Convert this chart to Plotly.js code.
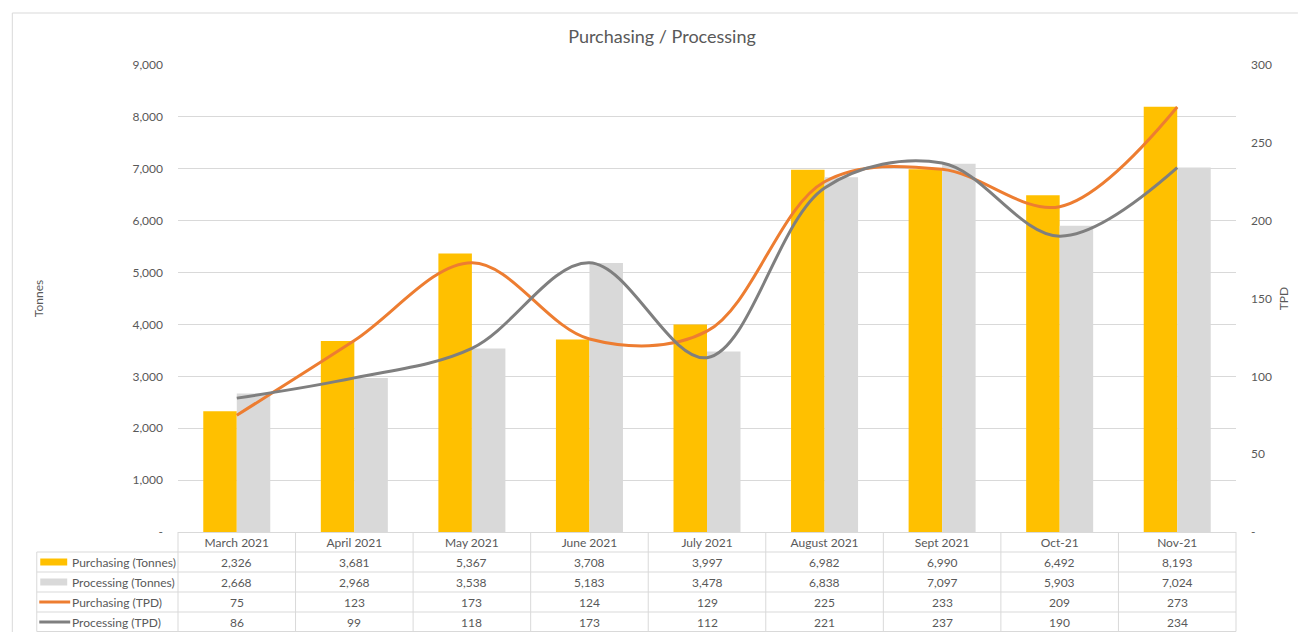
<!DOCTYPE html>
<html><head><meta charset="utf-8">
<script src="https://cdn.plot.ly/plotly-3.0.1.min.js"></script>
<style>html,body{margin:0;padding:0;background:#fff}</style>
</head><body><div id="chart" style="width:1300px;height:632px"></div>
<script>
const categories = ['March 2021','April 2021','May 2021','June 2021','July 2021','August 2021','Sept 2021','Oct-21','Nov-21'];
const purchasingTonnes = [2326,3681,5367,3708,3997,6982,6990,6492,8193];
const processingTonnes = [2668,2968,3538,5183,3478,6838,7097,5903,7024];
const purchasingTPD = [75,123,173,124,129,225,233,209,273];
const processingTPD = [86,99,118,173,112,221,237,190,234];
const seriesNames = ['Purchasing (Tonnes)','Processing (Tonnes)','Purchasing (TPD)','Processing (TPD)'];
const leftTicks = [0,1000,2000,3000,4000,5000,6000,7000,8000,9000];
const rightTicks = [0,50,100,150,200,250,300];

const GOLD='#FFC000', LGREY='#D9D9D9', ORANGE='#ED7D31', DGREY='#7F7F7F', TXT='#595959', BORDER='#D9D9D9';
const FONT='Lato, "Open Sans", sans-serif';
const fmt = v => v === 0 ? '-' : v.toLocaleString('en-US');

// pixel helpers (plot area 178..1238 x 65..532)
const L=178, R=1238, T=65, B=532;
const px = p => (p - L) / (R - L);
const py = p => (B - p) / (B - T);

const traces = [
  {type:'bar', name:seriesNames[0], x:categories, y:purchasingTonnes, marker:{color:GOLD}, yaxis:'y'},
  {type:'bar', name:seriesNames[1], x:categories, y:processingTonnes, marker:{color:LGREY}, yaxis:'y'},
  {type:'scatter', mode:'lines', name:seriesNames[2], x:categories, y:purchasingTPD, yaxis:'y2',
   line:{color:ORANGE, width:3, shape:'spline', smoothing:1}},
  {type:'scatter', mode:'lines', name:seriesNames[3], x:categories, y:processingTPD, yaxis:'y2',
   line:{color:DGREY, width:3, shape:'spline', smoothing:1}}
];

const shapes = [];
const annotations = [];
const line = (x0,y0,x1,y1,color,width) => shapes.push({type:'line', xref:'paper', yref:'paper',
  x0:px(x0), x1:px(x1), y0:py(y0), y1:py(y1), line:{color:color, width:width||1}});

// outer chart border
line(12,13,1300,13,BORDER,1);
line(12,13,12,632,BORDER,1);

// table grid
const rowTops = [552,572,592,612];
const rowBottom = 631.5;
rowTops.forEach(y => line(36.5,y,R,y,BORDER,1));
line(36.5,rowBottom,R,rowBottom,BORDER,1);
line(36.5,552,36.5,rowBottom,BORDER,1);
for (let k=0; k<=categories.length; k++) {
  const xx = L + (R-L)*k/categories.length;
  shapes.push({type:'line', xref:'paper', yref:'paper', x0:k/categories.length, x1:k/categories.length,
    y0:py(B), y1:py(rowBottom), line:{color:BORDER, width:1}});
}

// legend keys in the table
const keyColors = [GOLD, LGREY, ORANGE, DGREY];
rowTops.forEach((top,i) => {
  const c = top + 10;
  if (i < 2) {
    shapes.push({type:'rect', xref:'paper', yref:'paper', x0:px(40), x1:px(67), y0:py(c-3.5), y1:py(c+3.5),
      fillcolor:keyColors[i], line:{width:0}});
  } else {
    line(39, c, 70, c, keyColors[i], 3);
  }
  annotations.push({xref:'paper', yref:'paper', x:px(70), y:py(c), xanchor:'left', yanchor:'middle',
    text:seriesNames[i], showarrow:false, font:{family:FONT, size:12, color:TXT}});
});

// table values
const tableRows = [purchasingTonnes, processingTonnes, purchasingTPD, processingTPD];
tableRows.forEach((arr,i) => {
  const c = rowTops[i] + 10;
  arr.forEach((v,j) => annotations.push({xref:'x', yref:'paper', x:categories[j], y:py(c),
    xanchor:'center', yanchor:'middle', text:fmt(v), showarrow:false,
    font:{family:FONT, size:12, color:TXT}}));
});

const layout = {
  width:1300, height:632,
  margin:{l:L, r:1300-R, t:T, b:632-B},
  paper_bgcolor:'#fff', plot_bgcolor:'#fff',
  font:{family:FONT, size:12, color:TXT},
  showlegend:false,
  hovermode:false,
  barmode:'group', bargap:0.43, bargroupgap:0,
  title:{text:'Purchasing / Processing', font:{family:FONT, size:18, color:TXT},
    x:662/1300, xanchor:'center', xref:'container', y:1-37/632, yanchor:'middle', yref:'container'},
  xaxis:{type:'category', showgrid:false, showline:true, linecolor:BORDER, linewidth:1,
    ticks:'', tickfont:{family:FONT, size:12, color:TXT}, fixedrange:true},
  yaxis:{range:[0,9000], tickvals:leftTicks, ticktext:leftTicks.map(fmt), showgrid:true, gridcolor:BORDER,
    gridwidth:1, zeroline:false, showline:false, ticks:'', ticklabelstandoff:14,
    tickfont:{family:FONT, size:12, color:TXT},
    title:{text:'Tonnes', font:{family:FONT, size:12, color:TXT}, standoff:86}, automargin:true},
  yaxis2:{range:[0,300], tickvals:rightTicks, ticktext:rightTicks.map(fmt), overlaying:'y', side:'right',
    showgrid:false, zeroline:false, showline:false, ticks:'', ticklabelstandoff:14,
    tickfont:{family:FONT, size:12, color:TXT},
    title:{text:'TPD', font:{family:FONT, size:12, color:TXT}, standoff:8}, automargin:true},
  shapes:shapes,
  annotations:annotations
};

Plotly.newPlot('chart', traces, layout, {displayModeBar:false, staticPlot:true});
</script>
</body></html>
